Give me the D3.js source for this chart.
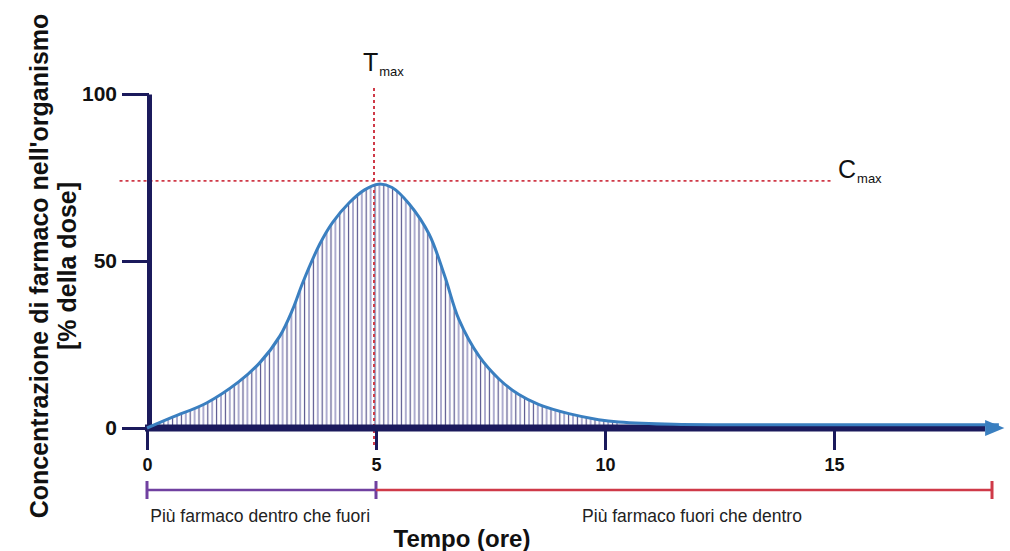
<!DOCTYPE html>
<html>
<head>
<meta charset="utf-8">
<script src="https://cdn.jsdelivr.net/npm/d3@7"></script>
<style>
  body { margin: 0; background: #fff; }
  svg text { font-family: "Liberation Sans", Arial, sans-serif; }
</style>
</head>
<body>
<div id="chart"></div>
<script>
// concentration curve (hours, % of dose)
var hours = [0, 0.57, 1.3, 2.0, 2.46, 2.9, 3.18, 3.4, 3.77, 4.05, 4.42, 4.75, 5.05, 5.35, 5.73, 6.16, 6.5, 6.81, 7.25, 7.69, 8.12, 8.56, 9.21, 9.86, 10.3, 11.5, 13, 18.6];
var conc = [0, 3.3, 7.5, 13.8, 19.5, 27.5, 35.5, 43.5, 55, 61.5, 67.5, 71.3, 73, 72, 67, 58, 45.5, 32.5, 21.5, 14.6, 10, 7, 4.3, 2.5, 1.8, 1.1, 1, 1];
var xTicks = [0, 5, 10, 15];
var yTicks = [0, 50, 100];
var tMax = 5, cMax = 74;
var phaseLabels = ["Più farmaco dentro che fuori", "Più farmaco fuori che dentro"];
var phaseEnds = [0, 5, 18.45];

var width = 1010, height = 551;
var navy = "#1b1a5c", blue = "#3a7fc0", red = "#cf3a48";

var svg = d3.select("#chart").append("svg")
    .attr("width", width)
    .attr("height", height);

var x = d3.scaleLinear().domain([0, 15]).range([147, 834]);
var y = d3.scaleLinear().domain([0, 100]).range([428, 94]);

var data = hours.map(function (h, i) { return {t: h, c: conc[i]}; });

// hatching pattern
var defs = svg.append("defs");
var pat = defs.append("pattern")
    .attr("id", "hatch")
    .attr("patternUnits", "userSpaceOnUse")
    .attr("width", 8.8).attr("height", 10);
pat.append("line").attr("x1", 1).attr("x2", 1).attr("y1", 0).attr("y2", 10)
    .attr("stroke", "#8c8abb").attr("stroke-width", 1.4);
pat.append("line").attr("x1", 5.4).attr("x2", 5.4).attr("y1", 0).attr("y2", 10)
    .attr("stroke", "#55538c").attr("stroke-width", 1.2);

defs.append("clipPath").attr("id", "hatchClip")
    .append("rect")
    .attr("x", x(0)).attr("y", 0)
    .attr("width", x(10.3) - x(0)).attr("height", height);

var smooth = d3.curveCatmullRom.alpha(0.5);

var area = d3.area()
    .x(function (d) { return x(d.t); })
    .y0(y(0))
    .y1(function (d) { return y(d.c); })
    .curve(smooth);

svg.append("path")
    .datum(data)
    .attr("d", area)
    .attr("fill", "url(#hatch)")
    .attr("clip-path", "url(#hatchClip)");

// Tmax / Cmax dotted guides
svg.append("line")
    .attr("x1", x(tMax) - 2).attr("x2", x(tMax) - 2)
    .attr("y1", 88).attr("y2", 448)
    .attr("stroke", red).attr("stroke-width", 2)
    .attr("stroke-dasharray", "3,3");
svg.append("line")
    .attr("x1", x(-0.6)).attr("x2", x(14.95))
    .attr("y1", y(cMax)).attr("y2", y(cMax))
    .attr("stroke", red).attr("stroke-width", 1.6)
    .attr("stroke-dasharray", "3,3");

// x axis
var xAxis = d3.axisBottom(x)
    .tickValues(xTicks)
    .tickSize(22)
    .tickSizeOuter(0)
    .tickPadding(8);
var gx = svg.append("g")
    .attr("transform", "translate(0," + y(0) + ")")
    .call(xAxis);
gx.select(".domain").remove();
gx.selectAll(".tick line").attr("stroke", navy).attr("stroke-width", 3);
gx.selectAll(".tick text")
    .attr("fill", "#111").attr("font-size", 18).attr("font-weight", "bold");

svg.append("line")
    .attr("x1", x(0) - 2).attr("x2", x(18.3))
    .attr("y1", y(0)).attr("y2", y(0))
    .attr("stroke", navy).attr("stroke-width", 7);
svg.append("path")
    .attr("d", "M" + x(18.3) + "," + (y(0) - 8) + "L" + x(18.72) + "," + y(0) + "L" + x(18.3) + "," + (y(0) + 8) + "Z")
    .attr("fill", blue);

// y axis
var yAxis = d3.axisLeft(y)
    .tickValues(yTicks)
    .tickSize(27)
    .tickSizeOuter(0)
    .tickPadding(5);
var gy = svg.append("g")
    .attr("transform", "translate(" + (x(0) + 2) + ",0)")
    .call(yAxis);
gy.select(".domain").attr("stroke", navy).attr("stroke-width", 5);
gy.selectAll(".tick line").attr("stroke", navy).attr("stroke-width", 3);
gy.selectAll(".tick text")
    .attr("fill", "#111").attr("font-size", 21).attr("font-weight", "bold");

// curve
var line = d3.line()
    .x(function (d) { return x(d.t); })
    .y(function (d) { return y(d.c); })
    .curve(smooth);
svg.append("path")
    .datum(data)
    .attr("d", line)
    .attr("fill", "none")
    .attr("stroke", blue)
    .attr("stroke-width", 3);

// Tmax / Cmax labels
var tLab = svg.append("text")
    .attr("x", x(tMax) - 13).attr("y", 71)
    .attr("font-size", 25).attr("fill", "#111");
tLab.append("tspan").text("T");
tLab.append("tspan").attr("font-size", 13).attr("dy", 5).attr("dx", 1).text("max");

var cLab = svg.append("text")
    .attr("x", 838).attr("y", 178)
    .attr("font-size", 25).attr("fill", "#111");
cLab.append("tspan").text("C");
cLab.append("tspan").attr("font-size", 13).attr("dy", 5).attr("dx", 1).text("max");

// phase brackets
var bracketY = 490;
var phaseColors = ["#7040a0", red];
var labelCenters = [2.47, 11.9];
for (var i = 0; i < 2; i++) {
    var g = svg.append("g");
    g.append("line")
        .attr("x1", x(phaseEnds[i])).attr("x2", x(phaseEnds[i + 1]))
        .attr("y1", bracketY).attr("y2", bracketY)
        .attr("stroke", phaseColors[i]).attr("stroke-width", 2.5);
    g.append("line")
        .attr("x1", x(phaseEnds[i + 1])).attr("x2", x(phaseEnds[i + 1]))
        .attr("y1", bracketY - 9).attr("y2", bracketY + 9)
        .attr("stroke", phaseColors[i]).attr("stroke-width", 3);
    g.append("text")
        .attr("x", x(labelCenters[i]))
        .attr("y", 522)
        .attr("text-anchor", "middle")
        .attr("font-size", 17.5)
        .attr("fill", "#222")
        .text(phaseLabels[i]);
}
svg.append("line")
    .attr("x1", x(0)).attr("x2", x(0))
    .attr("y1", bracketY - 9).attr("y2", bracketY + 9)
    .attr("stroke", phaseColors[0]).attr("stroke-width", 3);

// axis titles
svg.append("text")
    .attr("x", 462).attr("y", 547)
    .attr("text-anchor", "middle")
    .attr("font-size", 24).attr("font-weight", "bold").attr("fill", "#111")
    .text("Tempo (ore)");

var yt = svg.append("text")
    .attr("transform", "translate(48,266) rotate(-90)")
    .attr("text-anchor", "middle")
    .attr("font-size", 25).attr("font-weight", "bold").attr("fill", "#111");
yt.append("tspan").attr("x", 0).attr("y", 0).text("Concentrazione di farmaco nell'organismo");
yt.append("tspan").attr("x", 0).attr("y", 28).text("[% della dose]");
</script>
</body>
</html>
